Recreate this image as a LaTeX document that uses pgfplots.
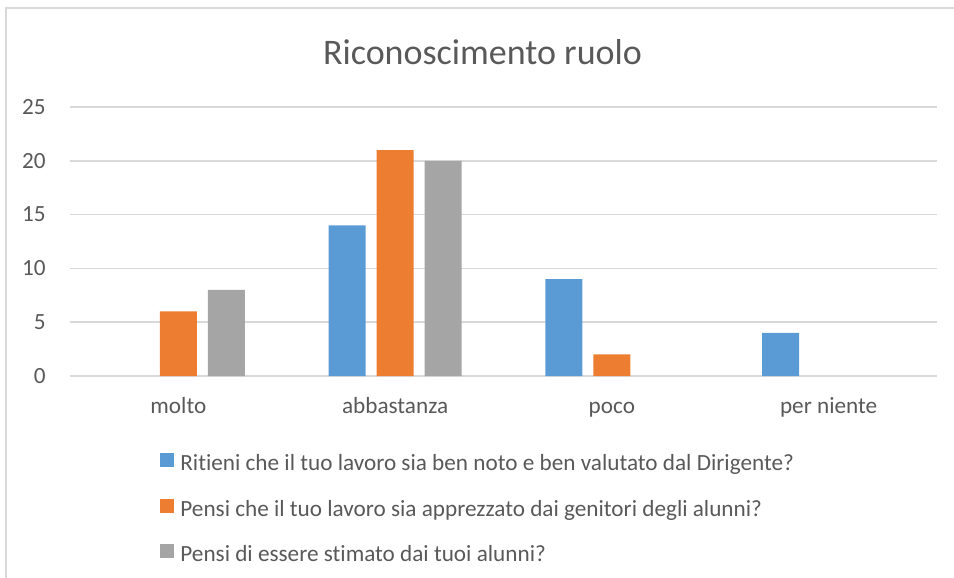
\documentclass[border=0pt]{standalone}
\usepackage{pgfplots}
\pgfplotsset{compat=1.18}
\usepackage{fontspec}
\setmainfont{Carlito}[RawFeature={-liga;-clig;-calt;-dlig}]
\definecolor{cblue}{HTML}{5B9BD5}
\definecolor{corange}{HTML}{ED7D31}
\definecolor{cgray}{HTML}{A5A5A5}
\definecolor{txt}{HTML}{595959}
\definecolor{gridc}{HTML}{D9D9D9}
\begin{document}
\begin{tikzpicture}
\useasboundingbox (0,0) rectangle (477pt,-289pt);
\draw[color=gridc, line width=0.75pt] (3pt,-289pt) -- (3pt,-4pt) -- (477pt,-4pt);
\node[anchor=base, inner sep=0pt, font=\fontsize{18}{22}\selectfont, text=txt] at (241.25pt,-32pt) {Riconoscimento ruolo};
\begin{axis}[
  at={(35pt,-188pt)}, anchor=south west,
  scale only axis, width=433.5pt, height=134.5pt,
  ybar=5.5pt, bar width=18.5pt,
  xmin=-0.5, xmax=3.5, ymin=0, ymax=25,
  xtick={0,1,2,3},
  xticklabels={molto,abbastanza,poco,per niente},
  ytick={0,5,10,15,20,25},
  ymajorgrids, grid style={gridc, line width=0.75pt},
  axis line style={draw=none},
  major tick length=0pt,
  tick label style={font=\fontsize{11.6}{14}\selectfont, text=txt},
  /pgf/number format/assume math mode=true,
  xticklabel style={anchor=base, yshift=-18.5pt, inner sep=0pt},
  yticklabel style={anchor=base east, xshift=-12pt, yshift=-3.65pt, inner sep=0pt},
  legend style={at={(0.1038,-0.285)}, anchor=north west, draw=none, fill=none,
    inner sep=0pt, row sep=11.5pt, column sep=3pt,
    font=\fontsize{11.6}{14}\selectfont, text=txt,
    nodes={inner sep=0pt, text height=8pt, text depth=2.5pt}},
  legend cell align=left,
  legend image code/.code={\fill[#1] (0pt,-1pt) rectangle (7pt,6pt);},
]
\addplot[fill=cblue, draw=none] coordinates {(1,14) (2,9) (3,4)};
\addplot[fill=corange, draw=none] coordinates {(0,6) (1,21) (2,2)};
\addplot[fill=cgray, draw=none] coordinates {(0,8) (1,20)};
\legend{Ritieni che il tuo lavoro sia ben noto e ben valutato dal Dirigente?,
Pensi che il tuo lavoro sia apprezzato dai genitori degli alunni?,
Pensi di essere stimato dai tuoi alunni?}
\end{axis}
\end{tikzpicture}
\end{document}
